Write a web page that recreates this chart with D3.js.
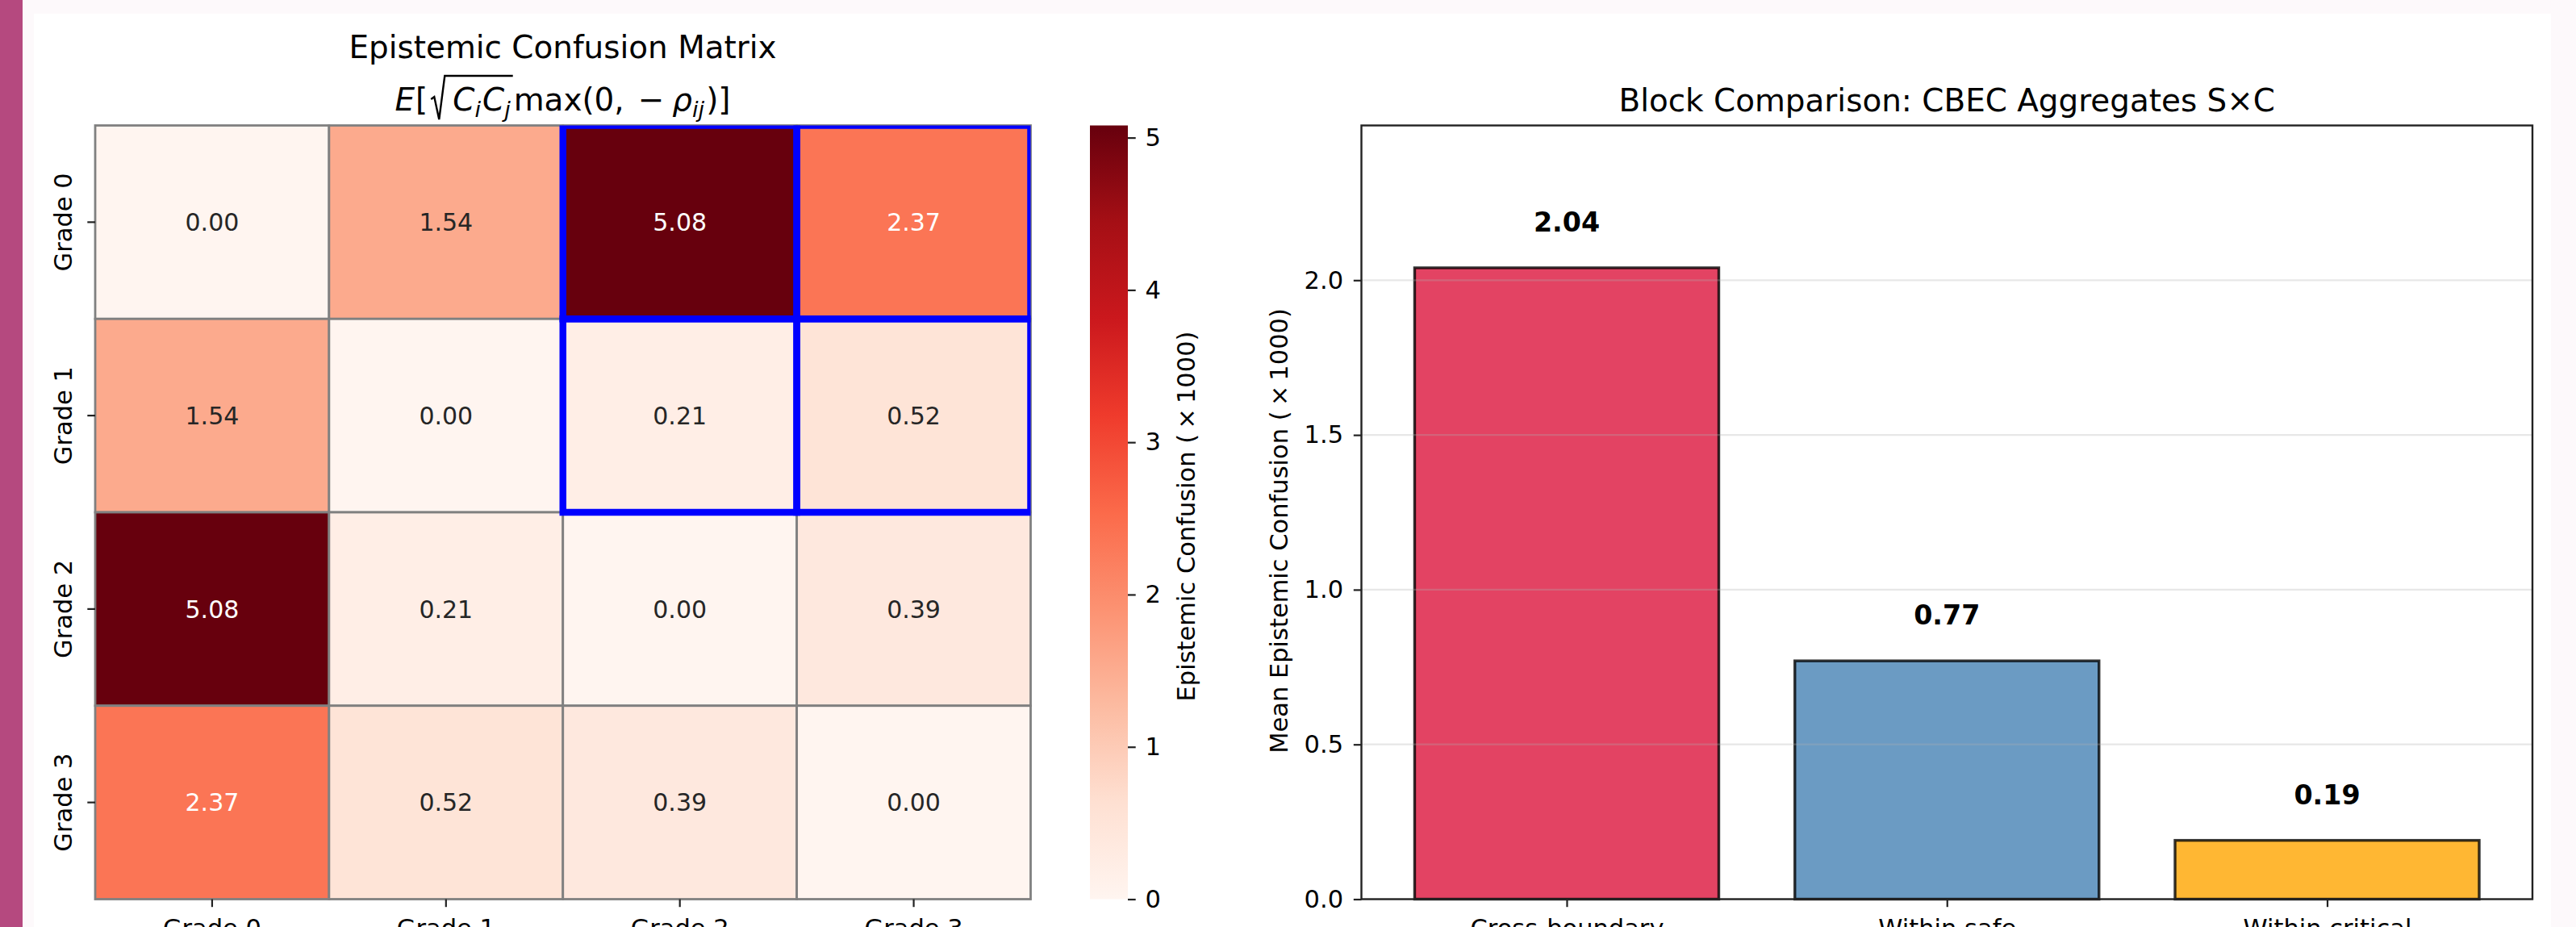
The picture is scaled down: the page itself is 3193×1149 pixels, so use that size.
<!DOCTYPE html>
<html>
<head>
<meta charset="utf-8">
<script src="https://cdn.jsdelivr.net/npm/d3@7"></script>
<style>
  html, body { margin: 0; padding: 0; background: #fdf9fb; }
  svg { display: block; font-family: "DejaVu Sans", sans-serif; }
</style>
</head>
<body>
<svg id="fig" width="3193" height="1149"></svg>
<script>
// ---- data ----
const grades = ["Grade 0", "Grade 1", "Grade 2", "Grade 3"];
const confusion = [
  [0.00, 1.54, 5.08, 2.37],
  [1.54, 0.00, 0.21, 0.52],
  [5.08, 0.21, 0.00, 0.39],
  [2.37, 0.52, 0.39, 0.00]
];
// cross-boundary cells (safe rows x critical columns) outlined in blue
const highlightCells = [[0, 2], [0, 3], [1, 2], [1, 3]];
const colorbarTicks = [0, 1, 2, 3, 4, 5];

const blockNames = ["Cross-boundary", "Within safe", "Within critical"];
const blockMeans = [2.04, 0.77, 0.19];
const blockColors = ["crimson", "steelblue", "orange"];
const barTicks = [0.0, 0.5, 1.0, 1.5, 2.0];

// ColorBrewer Reds anchors (linear, as in matplotlib "Reds")
const REDS = ["#fff5f0", "#fee0d2", "#fcbba1", "#fc9272", "#fb6a4a",
              "#ef3b2c", "#cb181d", "#a50f15", "#67000d"];

// ---- page frame ----
const svg = d3.select("#fig");
svg.append("rect").attr("x", 0).attr("y", 0).attr("width", 3193).attr("height", 1149).attr("fill", "#fdf9fb");
svg.append("rect").attr("x", 42).attr("y", 17).attr("width", 3120).attr("height", 1132).attr("fill", "#ffffff");
svg.append("rect").attr("x", 0).attr("y", 0).attr("width", 28).attr("height", 1149).attr("fill", "#b5497f");

const TICK_FS = 30.5, TITLE_FS = 38.9, ANN_FS = 30, BOLD_FS = 33.3;
const TICK_LEN = 9.7, PAD = 9.7;
const axTop = 155.5, axBottom = 1114.5;

function styleAxis(g) {
  g.select(".domain").remove();
  g.selectAll(".tick line").attr("stroke", "#222").attr("stroke-width", 2.2);
  g.selectAll(".tick text").attr("font-size", TICK_FS).attr("fill", "#000")
    .attr("font-family", "DejaVu Sans");
}

// ================= Heatmap =================
const hx = d3.scaleBand().domain(grades).range([118, 1277.5]);
const hy = d3.scaleBand().domain(grades).range([axTop, axBottom]);
const vmax = d3.max(confusion.flat());
const color = d3.scaleLinear()
  .domain(REDS.map((_, i) => i / (REDS.length - 1) * vmax))
  .range(REDS)
  .interpolate(d3.interpolateRgb)
  .clamp(true);

function luminance(c) {
  const rgb = d3.rgb(c);
  const lin = v => { v /= 255; return v <= 0.03928 ? v / 12.92 : Math.pow((v + 0.055) / 1.055, 2.4); };
  return 0.2126 * lin(rgb.r) + 0.7152 * lin(rgb.g) + 0.0722 * lin(rgb.b);
}

const cells = [];
confusion.forEach((row, i) => row.forEach((v, j) => cells.push({ i, j, v })));

const defs = svg.append("defs");
const heat = svg.append("g");
heat.selectAll("rect.cell").data(cells).join("rect")
  .attr("class", "cell")
  .attr("x", d => hx(grades[d.j]))
  .attr("y", d => hy(grades[d.i]))
  .attr("width", hx.bandwidth())
  .attr("height", hy.bandwidth())
  .attr("fill", d => color(d.v))
  .attr("stroke", "#808080")
  .attr("stroke-width", 2.8);

heat.selectAll("text.ann").data(cells).join("text")
  .attr("class", "ann")
  .attr("x", d => hx(grades[d.j]) + hx.bandwidth() / 2)
  .attr("y", d => hy(grades[d.i]) + hy.bandwidth() / 2)
  .attr("dy", "0.36em")
  .attr("text-anchor", "middle")
  .attr("font-size", ANN_FS)
  .attr("fill", d => luminance(color(d.v)) > 0.408 ? "#262626" : "#ffffff")
  .text(d => d.v.toFixed(2));

// blue outlines, clipped to the heatmap area
defs.append("clipPath").attr("id", "heatClip")
  .append("rect").attr("x", 118).attr("y", axTop).attr("width", 1277.5 - 118).attr("height", axBottom - axTop);
heat.append("g").attr("clip-path", "url(#heatClip)")
  .selectAll("rect").data(highlightCells).join("rect")
  .attr("x", d => hx(grades[d[1]]))
  .attr("y", d => hy(grades[d[0]]))
  .attr("width", hx.bandwidth())
  .attr("height", hy.bandwidth())
  .attr("fill", "none")
  .attr("stroke", "#0000ff")
  .attr("stroke-width", 8.5);

// heatmap axes
const hxAxis = svg.append("g").attr("transform", `translate(0,${axBottom})`)
  .call(d3.axisBottom(hx).tickSize(TICK_LEN).tickPadding(PAD));
styleAxis(hxAxis);
hxAxis.selectAll(".tick text").attr("dy", "0.89em");

const hyAxis = svg.append("g").attr("transform", "translate(118,0)")
  .call(d3.axisLeft(hy).tickSize(TICK_LEN).tickPadding(PAD));
styleAxis(hyAxis);
hyAxis.selectAll(".tick text")
  .attr("x", 0).attr("y", -29).attr("dy", 0)
  .attr("text-anchor", "middle")
  .attr("transform", "rotate(-90)");

// titles
svg.append("text").attr("x", 697.5).attr("y", 71.5).attr("text-anchor", "middle")
  .attr("font-size", TITLE_FS).attr("fill", "#000").text("Epistemic Confusion Matrix");

// second title line: E[ sqrt(C_i C_j) max(0, -rho_ij) ]
(function mathLine() {
  const F = TITLE_FS, SF = F * 0.7, SUB = F * 0.2, base = 137;
  const g = svg.append("g");
  const parts = [
    { t: "E", it: true, gap: 1 },
    { t: "[", gap: 4 },
    { rad: "start" },
    { t: "C", it: true, gap: 0 }, { t: "i", it: true, sub: true, gap: 2 },
    { t: "C", it: true, gap: 0 }, { t: "j", it: true, sub: true, gap: 0 },
    { rad: "end" },
    { t: "max(0,", gap: 17 },
    { t: "\u2212", gap: 10 },
    { t: "\u03c1", it: true, gap: 0 }, { t: "ij", it: true, sub: true, gap: 2 },
    { t: ")]", gap: 0 }
  ];
  let x = 0, radX = 0;
  parts.forEach(p => {
    if (p.rad === "start") { radX = x; x += 27; return; }
    if (p.rad === "end") {
      g.append("path")
        .attr("d", `M${radX},${base - 14} L${radX + 4},${base - 17} L${radX + 10},${base + 11} L${radX + 17},${base - 43} L${x + 3},${base - 43}`)
        .attr("fill", "none").attr("stroke", "#000").attr("stroke-width", 2.4)
        .attr("stroke-linejoin", "miter");
      x += 4; return;
    }
    const t = g.append("text").attr("x", x).attr("y", p.sub ? base + SUB : base)
      .attr("font-size", p.sub ? SF : F)
      .attr("font-style", p.it ? "italic" : "normal")
      .attr("fill", "#000").text(p.t);
    x += t.node().getComputedTextLength() + (p.gap || 0);
  });
  g.attr("transform", `translate(${697.5 - x / 2},0)`);
})();

// colorbar
const cbScale = d3.scaleLinear().domain([0, vmax]).range([axBottom, axTop]);
const grad = defs.append("linearGradient").attr("id", "cbGrad")
  .attr("x1", 0).attr("y1", 1).attr("x2", 0).attr("y2", 0);
color.domain().forEach((d, i) => {
  grad.append("stop").attr("offset", d / vmax).attr("stop-color", REDS[i]);
});
svg.append("rect").attr("x", 1351).attr("y", axTop).attr("width", 47).attr("height", axBottom - axTop)
  .attr("fill", "url(#cbGrad)");
const cbAxis = svg.append("g").attr("transform", "translate(1398,0)")
  .call(d3.axisRight(cbScale).tickValues(colorbarTicks).tickFormat(d3.format("d"))
    .tickSize(TICK_LEN).tickPadding(PAD + 2));
styleAxis(cbAxis);
svg.append("text").attr("transform", "translate(1481,640) rotate(-90)")
  .attr("text-anchor", "middle").attr("font-size", TICK_FS).attr("fill", "#000")
  .text("Epistemic Confusion (\u2009\u00d7\u20091000)");

// ================= Bar chart =================
const bx = d3.scaleLinear().domain([-0.54, 2.54]).range([1687.5, 3139]);
const by = d3.scaleLinear().domain([0, 2.5]).range([axBottom, axTop]);
const bars = svg.append("g");
bars.selectAll("rect").data(blockMeans).join("rect")
  .attr("x", (d, i) => bx(i - 0.4))
  .attr("y", d => by(d))
  .attr("width", (d, i) => bx(i + 0.4) - bx(i - 0.4))
  .attr("height", d => by(0) - by(d))
  .attr("fill", (d, i) => blockColors[i]).attr("fill-opacity", 0.8)
  .attr("stroke", "#000").attr("stroke-opacity", 0.8).attr("stroke-width", 3.4);

// grid lines over the bars
svg.append("g").selectAll("line").data(barTicks.filter(t => t > 0)).join("line")
  .attr("x1", bx(-0.54)).attr("x2", bx(2.54))
  .attr("y1", d => by(d)).attr("y2", d => by(d))
  .attr("stroke", "#b0b0b0").attr("stroke-opacity", 0.3).attr("stroke-width", 2.2);

// value labels
bars.selectAll("text").data(blockMeans).join("text")
  .attr("x", (d, i) => bx(i))
  .attr("y", d => by(d) - 45)
  .attr("text-anchor", "middle").attr("font-size", BOLD_FS).attr("font-weight", "bold")
  .attr("fill", "#000")
  .text(d => d.toFixed(2));

// spines
svg.append("rect").attr("x", bx(-0.54)).attr("y", axTop)
  .attr("width", bx(2.54) - bx(-0.54)).attr("height", axBottom - axTop)
  .attr("fill", "none").attr("stroke", "#222").attr("stroke-width", 2.4);

const byAxis = svg.append("g").attr("transform", `translate(${bx(-0.54)},0)`)
  .call(d3.axisLeft(by).tickValues(barTicks).tickFormat(d3.format(".1f"))
    .tickSize(TICK_LEN).tickPadding(PAD + 3));
styleAxis(byAxis);

const bxAxis = svg.append("g").attr("transform", `translate(0,${axBottom})`)
  .call(d3.axisBottom(bx).tickValues([0, 1, 2]).tickFormat(i => blockNames[i])
    .tickSize(TICK_LEN).tickPadding(PAD));
styleAxis(bxAxis);
bxAxis.selectAll(".tick text").attr("dy", "0.89em");

svg.append("text").attr("x", (bx(-0.54) + bx(2.54)) / 2).attr("y", 138)
  .attr("text-anchor", "middle").attr("font-size", TITLE_FS).attr("fill", "#000")
  .text("Block Comparison: CBEC Aggregates S\u00d7C");

svg.append("text").attr("transform", "translate(1596,658) rotate(-90)")
  .attr("text-anchor", "middle").attr("font-size", TICK_FS).attr("fill", "#000")
  .text("Mean Epistemic Confusion (\u2009\u00d7\u20091000)");
</script>
</body>
</html>
